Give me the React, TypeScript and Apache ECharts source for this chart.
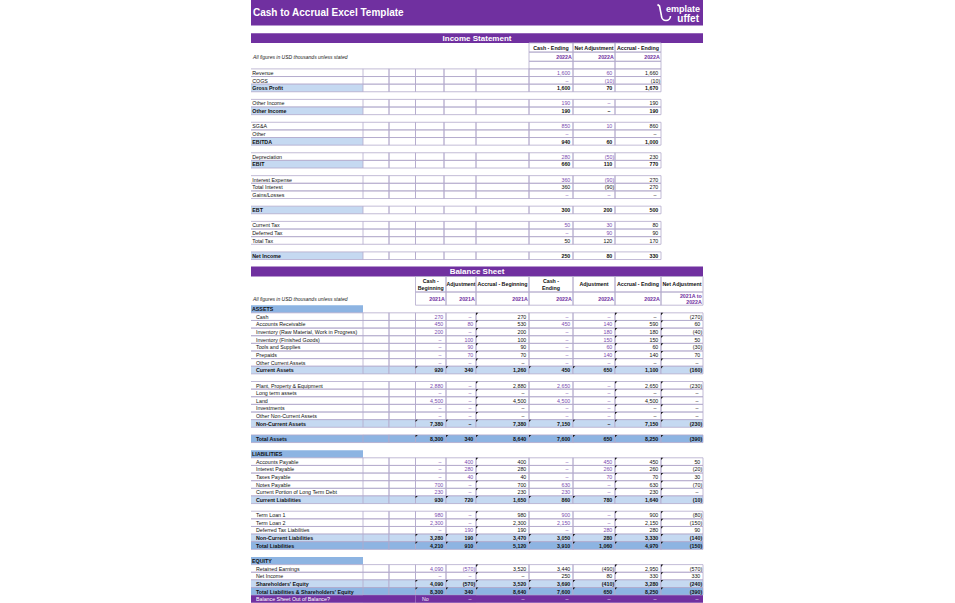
import React, { useEffect, useRef } from "react";
import * as echarts from "echarts";

// ---------------- DATA ----------------
const TITLE = "Cash to Accrual Excel Template";
const NOTE = "All figures in USD thousands unless stated";
const IS_TITLE = "Income Statement";
const BS_TITLE = "Balance Sheet";
const LOGO_TOP = "emplate";
const LOGO_BOTTOM = "uffet";

const isLabels = ["Revenue", "COGS", "Gross Profit", "", "Other Income", "Other Income", "", "SG&A", "Other", "EBITDA", "", "Depreciation", "EBIT", "", "Interest Expense", "Total Interest", "Gains/Losses", "", "EBT", "", "Current Tax", "Deferred Tax", "Total Tax", "", "Net Income"];
// d = line item, s = subtotal, b = blank row
const isKinds = ["d", "d", "s", "b", "d", "s", "b", "d", "d", "s", "b", "d", "s", "b", "d", "d", "d", "b", "s", "b", "d", "d", "d", "b", "s"];
const isHardcoded = [true, true, false, false, true, false, false, true, true, false, false, true, false, false, true, false, true, false, false, false, true, true, false, false, false];
const isCash = [1600, 0, 1600, null, 190, 190, null, 850, 0, 940, null, 280, 660, null, 360, 360, 0, null, 300, null, 50, 0, 50, null, 250];
const isAdj = [60, -10, 70, null, 0, 0, null, 10, null, 60, null, -50, 110, null, -90, -90, 0, null, 200, null, 30, 90, 120, null, 80];
const isAccrual = [1660, -10, 1670, null, 190, 190, null, 860, 0, 1000, null, 230, 770, null, 270, 270, 0, null, 500, null, 80, 90, 170, null, 330];
const isHeaders = ["Cash - Ending", "Net Adjustment", "Accrual - Ending"];
const isYears = ["2022A", "2022A", "2022A"];

const bsLabels = ["ASSETS", "Cash", "Accounts Receivable", "Inventory (Raw Material, Work in Progress)", "Inventory (Finished Goods)", "Tools and Supplies", "Prepaids", "Other Current Assets", "Current Assets", "", "Plant, Property & Equipment", "Long term assets", "Land", "Investments", "Other Non-Current Assets", "Non-Current Assets", "", "Total Assets", "", "LIABILITIES", "Accounts Payable", "Interest Payable", "Taxes Payable", "Notes Payable", "Current Portion of Long Term Debt", "Current Liabilities", "", "Term Loan 1", "Term Loan 2", "Deferred Tax Liabilities", "Non-Current Liabilities", "Total Liabilities", "", "EQUITY", "Retained Earnings", "Net Income", "Shareholders' Equity", "Total Liabilities & Shareholders' Equity", "Balance Sheet Out of Balance?"];
// h = section header, d = line item, s = subtotal, t = total, b = blank, o = check row
const bsKinds = ["h", "d", "d", "d", "d", "d", "d", "d", "s", "b", "d", "d", "d", "d", "d", "s", "b", "t", "b", "h", "d", "d", "d", "d", "d", "s", "b", "d", "d", "d", "s", "t", "b", "h", "d", "d", "s", "t", "o"];
const bsEndingLinked = ["Retained Earnings", "Net Income"];
const bsCashBeg = [null, 270, 450, 200, 0, 0, 0, 0, 920, null, 2880, 0, 4500, 0, 0, 7380, null, 8300, null, null, 0, 0, 0, 700, 230, 930, null, 980, 2300, 0, 3280, 4210, null, null, 4090, 0, 4090, 8300, "No"];
const bsAdjBeg = [null, 0, 80, 0, 100, 90, 70, 0, 340, null, 0, 0, 0, 0, 0, 0, null, 340, null, null, 400, 280, 40, 0, 0, 720, null, 0, 0, 190, 190, 910, null, null, -570, 0, -570, 340, 0];
const bsAccBeg = [null, 270, 530, 200, 100, 90, 70, 0, 1260, null, 2880, 0, 4500, 0, 0, 7380, null, 8640, null, null, 400, 280, 40, 700, 230, 1650, null, 980, 2300, 190, 3470, 5120, null, null, 3520, 0, 3520, 8640, 0];
const bsCashEnd = [null, 0, 450, 0, 0, 0, 0, 0, 450, null, 2650, 0, 4500, 0, 0, 7150, null, 7600, null, null, 0, 0, 0, 630, 230, 860, null, 900, 2150, 0, 3050, 3910, null, null, 3440, 250, 3690, 7600, 0];
const bsAdjEnd = [null, 0, 140, 180, 150, 60, 140, 0, 650, null, 0, 0, 0, 0, 0, 0, null, 650, null, null, 450, 260, 70, 0, 0, 780, null, 0, 0, 280, 280, 1060, null, null, -490, 80, -410, 650, 0];
const bsAccEnd = [null, 0, 590, 180, 150, 60, 140, 0, 1100, null, 2650, 0, 4500, 0, 0, 7150, null, 8250, null, null, 450, 260, 70, 630, 230, 1640, null, 900, 2150, 280, 3330, 4970, null, null, 2950, 330, 3280, 8250, 0];
const bsNetAdj = [null, -270, 60, -40, 50, -30, 70, 0, -160, null, -230, 0, 0, 0, 0, -230, null, -390, null, null, 50, -20, 30, -70, 0, -10, null, -80, -150, 90, -140, -150, null, null, -570, 330, -240, -390, 0];
const bsHeaders = ["Cash -\nBeginning", "Adjustment", "Accrual - Beginning", "Cash -\nEnding", "Adjustment", "Accrual - Ending", "Net Adjustment"];
const bsYears = ["2021A", "2021A", "2021A", "2022A", "2022A", "2022A", "2021A to\n2022A"];

// ---------------- LAYOUT / STYLE ----------------
const W = 452;
const IS_X = [0, 112, 138, 164.5, 193, 225, 278, 322, 364, 410];
const BS_X = [0, 112, 138, 164.5, 195, 225, 278, 322, 364, 410, 452];
const TITLE_Y = [0, 25.5];
const IS_BAR = [33.3, 42.9];
const IS_HEAD = [42.9, 52.1];
const IS_YEAR = [52.1, 61.3];
const IS_ROW0 = 68.9;
const IS_RH = 7.625;
const BS_BAR = [266.6, 276.5];
const BS_HEAD = [276.5, 292];
const BS_YEAR = [292, 305.2];
const BS_ROW0 = 305.2;
const BS_RH = 7.63;

const PURPLE = "#7030a0";
const INPUT = "#7a4cb0";
const LIGHT = "#c5d9f1";
const DARK = "#8db4e2";
const GRID = "#b3a9cc";
const BLACK = "#111111";
const FS = 5.3;
const FONT = "'Liberation Sans', Arial, sans-serif";

type Cell = {
  x0: number; y0: number; x1: number; y1: number;
  fill?: string; stroke?: "box" | "tb" | "none";
  text?: string; align?: "left" | "right" | "center"; pad?: number;
  color?: string; bold?: boolean; italic?: boolean; size?: number; lh?: number; tri?: boolean;
};

const fmt = (v: any): string => {
  if (v === null || v === undefined) return "";
  if (typeof v === "string") return v;
  if (v === 0) return "–";
  const s = Math.abs(v).toLocaleString("en-US");
  return v < 0 ? `(${s})` : s;
};

const numCell = (x0: number, x1: number, y0: number, y1: number, v: any, color: string, bold: boolean): Cell => {
  const text = fmt(v);
  let pad = 2.7;
  let align: "left" | "right" = "right";
  if (typeof v === "string") { align = "left"; pad = 6.5; }
  else if (v === 0) pad = 4.6;
  else if (typeof v === "number" && v < 0) pad = 0.8;
  return { x0, x1, y0, y1, text, align, pad, color, bold, stroke: "box" };
};

function buildCells(): Cell[] {
  const cells: Cell[] = [];
  cells.push({ x0: 0, x1: W, y0: TITLE_Y[0], y1: TITLE_Y[1], fill: PURPLE, text: TITLE, align: "left", pad: 2, color: "#ffffff", bold: true, size: 10 });

  // ---- Income statement ----
  cells.push({ x0: 0, x1: W, y0: IS_BAR[0], y1: IS_BAR[1], fill: PURPLE, text: IS_TITLE, align: "center", color: "#ffffff", bold: true, size: 8 });
  isHeaders.forEach((h, j) => {
    cells.push({ x0: IS_X[6 + j], x1: IS_X[7 + j], y0: IS_HEAD[0], y1: IS_HEAD[1], stroke: "box", text: h, align: "center", bold: true, color: BLACK });
    cells.push({ x0: IS_X[6 + j], x1: IS_X[7 + j], y0: IS_YEAR[0], y1: IS_YEAR[1], stroke: "box", text: isYears[j], align: "right", pad: 1.2, bold: true, color: PURPLE });
    cells.push({ x0: IS_X[6 + j], x1: IS_X[7 + j], y0: IS_YEAR[1], y1: IS_ROW0, stroke: "box" });
  });
  cells.push({ x0: 0, x1: IS_X[6], y0: IS_YEAR[0], y1: IS_YEAR[1], text: NOTE, italic: true, size: 5, align: "left", pad: 2, color: "#222222" });
  isLabels.forEach((lab, i) => {
    const k = isKinds[i];
    if (k === "b") return;
    const y0 = IS_ROW0 + i * IS_RH, y1 = y0 + IS_RH;
    const bold = k === "s";
    cells.push({ x0: 0, x1: IS_X[1], y0, y1, fill: bold ? LIGHT : undefined, stroke: "tb", text: lab, align: "left", pad: 1.3, bold, color: BLACK });
    for (let c = 1; c <= 5; c++) cells.push({ x0: IS_X[c], x1: IS_X[c + 1], y0, y1, stroke: "box" });
    [isCash, isAdj, isAccrual].forEach((arr, j) => {
      const col = isHardcoded[i] && j < 2 ? INPUT : BLACK;
      cells.push(numCell(IS_X[6 + j], IS_X[7 + j], y0, y1, arr[i], col, bold));
    });
  });

  // ---- Balance sheet ----
  cells.push({ x0: 0, x1: W, y0: BS_BAR[0], y1: BS_BAR[1], fill: PURPLE, text: BS_TITLE, align: "center", color: "#ffffff", bold: true, size: 8 });
  bsHeaders.forEach((h, j) => {
    cells.push({ x0: BS_X[3 + j], x1: BS_X[4 + j], y0: BS_HEAD[0], y1: BS_HEAD[1], stroke: "box", text: h, align: "center", bold: true, color: BLACK, lh: 6.2 });
    cells.push({ x0: BS_X[3 + j], x1: BS_X[4 + j], y0: BS_YEAR[0], y1: BS_YEAR[1], stroke: "box", text: bsYears[j], align: "right", pad: 1.2, bold: true, color: PURPLE, lh: 6.2 });
  });
  cells.push({ x0: 0, x1: BS_X[1] + 40, y0: BS_YEAR[0], y1: BS_YEAR[1], text: NOTE, italic: true, size: 5, align: "left", pad: 2, color: "#222222" });
  const cols = [bsCashBeg, bsAdjBeg, bsAccBeg, bsCashEnd, bsAdjEnd, bsAccEnd, bsNetAdj];
  bsLabels.forEach((lab, i) => {
    const k = bsKinds[i];
    if (k === "b") return;
    const y0 = BS_ROW0 + i * BS_RH, y1 = y0 + BS_RH;
    if (k === "h") {
      cells.push({ x0: 0, x1: BS_X[1], y0, y1, fill: DARK, text: lab, align: "left", pad: 1, bold: true, color: BLACK });
      return;
    }
    const fill = k === "s" ? LIGHT : k === "t" ? DARK : k === "o" ? PURPLE : undefined;
    const bold = k === "s" || k === "t";
    const stroke = k === "o" ? "none" : "box";
    cells.push({ x0: 0, x1: BS_X[1], y0, y1, fill, stroke: k === "o" ? "none" : "tb", text: lab, align: "left", pad: 5, bold, color: k === "o" ? "#ffffff" : BLACK });
    for (let c = 1; c <= 2; c++) cells.push({ x0: BS_X[c], x1: BS_X[c + 1], y0, y1, fill, stroke });
    const linked = bsEndingLinked.includes(lab);
    cols.forEach((arr, j) => {
      let color = BLACK;
      if (k === "o") color = "#f2ecfa";
      else if (k === "d") {
        if (j === 0 || j === 1) color = INPUT;
        if ((j === 3 || j === 4) && !linked) color = INPUT;
      }
      const cell = numCell(BS_X[3 + j], BS_X[4 + j], y0, y1, arr[i], color, bold);
      cell.fill = fill;
      cell.stroke = stroke;
      cell.tri = k === "d" ? (j === 2 || j === 5 || j === 6) : (k === "s" || k === "t");
      cells.push(cell);
    });
  });
  return cells;
}

export default function App() {
  const ref = useRef<HTMLDivElement>(null);
  useEffect(() => {
    if (!ref.current) return;
    const chart = echarts.init(ref.current, undefined, { renderer: "svg" });
    const cells = buildCells();
    const data = cells.map((c, i) => [c.x0, c.y0, c.x1, c.y1, i]);
    chart.setOption({
      animation: false,
      backgroundColor: "#ffffff",
      grid: { left: 251, top: 0, width: W, height: 603 },
      xAxis: { type: "value", min: 0, max: W, show: false },
      yAxis: { type: "value", min: 0, max: 603, inverse: true, show: false },
      graphic: [
        { type: "text", z: 100, x: 700, y: 9, style: { text: LOGO_TOP, fill: "#ffffff", fontSize: 9, fontWeight: "bold", fontFamily: FONT, align: "right", verticalAlign: "middle" } },
        { type: "text", z: 100, x: 699, y: 18.5, style: { text: LOGO_BOTTOM, fill: "#ffffff", fontSize: 10, fontWeight: "bold", fontFamily: FONT, align: "right", verticalAlign: "middle" } },
        { type: "polyline", z: 100, shape: { points: [[657.5, 4.5], [659.5, 6], [661.5, 16]] }, style: { stroke: "#ffffff", lineWidth: 1.6, fill: "none" } },
        { type: "arc", z: 100, shape: { cx: 666, cy: 16, r: 4.5, startAngle: 0, endAngle: Math.PI }, style: { stroke: "#ffffff", lineWidth: 1.6, fill: "none" } },
      ],
      series: [
        {
          type: "custom",
          silent: true,
          clip: false,
          z: 2,
          encode: { x: [0, 2], y: [1, 3] },
          data,
          renderItem: (params: any, api: any) => {
            const c = cells[api.value(4)];
            const p0 = api.coord([api.value(0), api.value(1)]);
            const p1 = api.coord([api.value(2), api.value(3)]);
            const x = p0[0], y = p0[1], w = p1[0] - p0[0], h = p1[1] - p0[1];
            const children: any[] = [];
            if (c.fill) children.push({ type: "rect", shape: { x, y, width: w, height: h }, style: { fill: c.fill } });
            if (c.stroke === "box") children.push({ type: "rect", shape: { x, y, width: w, height: h }, style: { fill: "none", stroke: GRID, lineWidth: 0.8 } });
            if (c.stroke === "tb") {
              children.push({ type: "line", shape: { x1: x, y1: y, x2: x + w, y2: y }, style: { stroke: GRID, lineWidth: 0.8 } });
              children.push({ type: "line", shape: { x1: x, y1: y + h, x2: x + w, y2: y + h }, style: { stroke: GRID, lineWidth: 0.8 } });
            }
            if (c.tri) children.push({ type: "polygon", shape: { points: [[x, y], [x + 2.3, y], [x, y + 2.3]] }, style: { fill: "#1a1a1a" } });
            if (c.text) {
              const pad = c.pad ?? 2;
              const tx = c.align === "right" ? x + w - pad : c.align === "center" ? x + w / 2 : x + pad;
              children.push({
                type: "text",
                style: {
                  text: c.text, x: tx, y: y + h / 2 + 0.2,
                  fill: c.color ?? BLACK,
                  fontSize: c.size ?? FS,
                  fontWeight: c.bold ? "bold" : "normal",
                  fontStyle: c.italic ? "italic" : "normal",
                  fontFamily: FONT,
                  align: c.align ?? "left",
                  verticalAlign: "middle",
                  lineHeight: c.lh ?? (c.size ?? FS) * 1.2,
                },
              });
            }
            return { type: "group", children };
          },
        },
      ],
    });
    return () => chart.dispose();
  }, []);
  return <div ref={ref} style={{ position: "absolute", left: 0, top: 0, width: 955, height: 603 }} />;
}
